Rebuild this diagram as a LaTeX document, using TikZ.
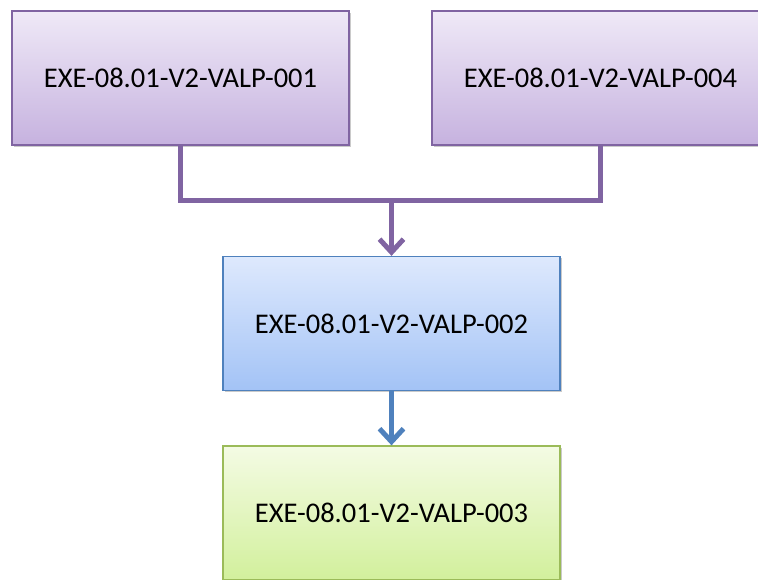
\documentclass[tikz,border=0pt]{standalone}
\usepackage{fontspec}
\setmainfont{Carlito}
\usetikzlibrary{arrows.meta,shadows,positioning}
\definecolor{purpleline}{HTML}{8064A2}
\definecolor{blueline}{HTML}{4F81BD}
\definecolor{greenline}{HTML}{9BBB59}
\definecolor{purpletop}{HTML}{EFE9F7}
\definecolor{purplebot}{HTML}{C6B2DF}
\definecolor{bluetop}{HTML}{DEE9FD}
\definecolor{bluebot}{HTML}{A3C3F6}
\definecolor{greentop}{HTML}{F4FBE4}
\definecolor{greenbot}{HTML}{D2F09C}
\tikzset{
  procbox/.style={rectangle, minimum width=337pt, minimum height=134pt,
    line width=1.3pt, font=\fontsize{28.5}{34}\selectfont, inner sep=0pt,
    drop shadow={shadow xshift=1.5pt, shadow yshift=-1.5pt, opacity=0.35, fill=black!60}},
  purplebox/.style={procbox, draw=purpleline, top color=purpletop, bottom color=purplebot},
  bluebox/.style={procbox, draw=blueline, top color=bluetop, bottom color=bluebot},
  greenbox/.style={procbox, draw=greenline, top color=greentop, bottom color=greenbot},
  link/.style={line width=5pt},
  tip/.style={-{Straight Barb[length=13pt,width=24pt,line width=5pt]}}
}
\begin{document}
\begin{tikzpicture}[x=1pt,y=-1pt]
  \useasboundingbox (0,0) rectangle (758,579);
  \clip (0,0) rectangle (758,579);
  \node[purplebox] (v1) at (180.5,78) {EXE-08.01-V2-VALP-001};
  \node[purplebox] (v4) at (600.5,78) {EXE-08.01-V2-VALP-004};
  \node[bluebox]   (v2) at (391.5,323.5) {EXE-08.01-V2-VALP-002};
  \node[greenbox]  (v3) at (391.5,513) {EXE-08.01-V2-VALP-003};
  \coordinate (j) at (391.5,200);
  \draw[link, purpleline, line join=miter] (v1.south) |- (j) -| (v4.south);
  \draw[link, purpleline, tip] (j) -- (v2.north);
  \draw[link, blueline, tip] (v2.south) -- (v3.north);
\end{tikzpicture}
\end{document}
